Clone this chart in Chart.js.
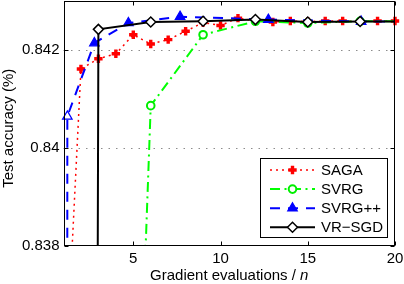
<!DOCTYPE html>
<html><head><meta charset="utf-8">
<script src="https://cdn.jsdelivr.net/npm/chart.js@4/dist/chart.umd.min.js"></script>
<style>html,body{margin:0;padding:0;background:#fff}canvas{display:block}</style>
</head><body>
<canvas id="c" width="404" height="284"></canvas>
<script>
// ---- data ----
const SERIES_NAMES = ['SAGA', 'SVRG', 'SVRG++', 'VR\u2212SGD'];
const X_TICKS = [5, 10, 15, 20];
const X_TICK_LABELS = ['5', '10', '15', '20'];
const Y_TICKS = [0.838, 0.840, 0.842];
const Y_TICK_LABELS = ['0.838', '0.84', '0.842'];
const X_TITLE = 'Gradient evaluations / ';
const X_TITLE_ITALIC = 'n';
const Y_TITLE = 'Test accuracy (%)';

const SAGA_X = [1, 2, 3, 4, 5, 6, 7, 8, 9, 10, 11, 12, 13, 14, 15, 16, 17, 18, 19, 20];
const SAGA_Y = [0.8344, 0.84161, 0.84182, 0.84192, 0.84231, 0.84212, 0.84221, 0.84238, 0.84256, 0.84250,
                0.84265, 0.84259, 0.84257, 0.84259, 0.84258, 0.84259, 0.84259, 0.84258, 0.84259, 0.84259];

const SVRG_X = [3, 6, 9, 12, 15, 18, 20];
const SVRG_Y = [0.8112, 0.84086, 0.84231, 0.842585, 0.84255, 0.842585, 0.842585];

const SVRGPP_X = [1, 1.22, 2.77, 4.72, 7.68, 12.74, 18.06, 20];
const SVRGPP_Y = [0.6, 0.84064, 0.84214, 0.84255, 0.84268, 0.84262, 0.84258, 0.84258];

const VRSGD_X = [1, 3, 6, 9, 12, 15, 18, 20];
const VRSGD_Y = [0.6, 0.84242, 0.84257, 0.842585, 0.84262, 0.84257, 0.84258, 0.84258];

const X_MIN = 1, X_MAX = 20, Y_MIN = 0.838, Y_MAX = 0.843;
// ------------------------------------

const FONT = "'Liberation Sans', Arial, Helvetica, sans-serif";
const FS = 15;

function pts(xs, ys) { return xs.map((x, i) => ({ x: x, y: ys[i] })); }
function lastNoMarker(n, r) { return Array.from({ length: n }, (_, i) => i === n - 1 ? 0 : r); }

const CLIP = { left: 8, top: 8, right: 10, bottom: 0 };

const datasets = [
  {
    label: SERIES_NAMES[0], data: pts(SAGA_X, SAGA_Y), order: 3,
    borderColor: '#ff0000', borderWidth: 1.5, borderDash: [2, 4],
    pointStyle: 'cross', pointRadius: 4.2, pointBorderWidth: 3.4,
    pointBorderColor: '#ff0000', pointBackgroundColor: '#ff0000',
    legendFill: '#ff0000'
  },
  {
    label: SERIES_NAMES[1], data: pts(SVRG_X, SVRG_Y), order: 2,
    borderColor: '#00ff00', borderWidth: 2, borderDash: [10, 4.5, 2, 4.5],
    pointStyle: 'circle', pointRadius: lastNoMarker(SVRG_X.length, 3.8), pointBorderWidth: 2,
    pointBorderColor: '#00ee00', pointBackgroundColor: '#ffffff',
    legendFill: '#ffffff'
  },
  {
    label: SERIES_NAMES[2], data: pts(SVRGPP_X, SVRGPP_Y), order: 1,
    borderColor: '#0000ff', borderWidth: 2, borderDash: [10, 8],
    pointStyle: 'triangle', pointRadius: lastNoMarker(SVRGPP_X.length, 5.5), pointBorderWidth: 1.2,
    pointBorderColor: '#0000ff',
    pointBackgroundColor: SVRGPP_X.map((_, i) => i < 2 ? '#ffffff' : '#0000ff'),
    legendFill: '#0000ff'
  },
  {
    label: SERIES_NAMES[3], data: pts(VRSGD_X, VRSGD_Y), order: 0,
    borderColor: '#000000', borderWidth: 2, borderDash: [],
    pointStyle: 'rectRot', pointRadius: lastNoMarker(VRSGD_X.length, 5), pointBorderWidth: 1.5,
    pointBorderColor: '#000000', pointBackgroundColor: '#ffffff',
    legendFill: '#ffffff'
  }
].map(d => Object.assign({ showLine: true, tension: 0, clip: CLIP, fill: false }, d));

const decor = {
  id: 'decor',
  beforeDatasetsDraw(chart) {
    const { ctx, chartArea: a, scales: { y } } = chart;
    ctx.save();
    ctx.strokeStyle = '#8c8c8c'; ctx.lineWidth = 1; ctx.setLineDash([1.5, 6]);
    Y_TICKS.forEach(v => {
      if (v === Y_MIN) return;
      const py = Math.round(y.getPixelForValue(v)) + 0.5;
      ctx.beginPath(); ctx.moveTo(a.left, py); ctx.lineTo(a.right, py); ctx.stroke();
    });
    ctx.restore();
  },
  afterDatasetsDraw(chart) {
    const { ctx, chartArea: a, scales: { x, y } } = chart;
    const ds = chart.data.datasets;
    ctx.save();
    ctx.setLineDash([]);
    ctx.strokeStyle = '#000'; ctx.lineWidth = 1;
    const L = Math.round(a.left) + 0.5, R = Math.round(a.right) - 0.5,
          T = Math.round(a.top) + 0.5, B = Math.round(a.bottom) - 0.5;
    ctx.strokeRect(L, T, R - L, B - T);
    ctx.beginPath();
    X_TICKS.forEach(v => {
      const px = Math.round(x.getPixelForValue(v)) + 0.5;
      ctx.moveTo(px, B); ctx.lineTo(px, B - 4);
      ctx.moveTo(px, T); ctx.lineTo(px, T + 4);
    });
    Y_TICKS.forEach(v => {
      const py = Math.round(y.getPixelForValue(v)) + 0.5;
      ctx.moveTo(L, py); ctx.lineTo(L + 4, py);
      ctx.moveTo(R, py); ctx.lineTo(R - 4, py);
    });
    ctx.stroke();

    // axis titles
    ctx.fillStyle = '#000';
    ctx.textBaseline = 'middle';
    const cx = (a.left + a.right) / 2;
    ctx.font = FS + 'px ' + FONT;
    const w1 = ctx.measureText(X_TITLE).width;
    ctx.font = 'italic ' + FS + 'px ' + FONT;
    const w2 = ctx.measureText(X_TITLE_ITALIC).width;
    const x0 = cx - (w1 + w2) / 2;
    ctx.textAlign = 'left';
    ctx.font = FS + 'px ' + FONT;
    ctx.fillText(X_TITLE, x0, 276);
    ctx.font = 'italic ' + FS + 'px ' + FONT;
    ctx.fillText(X_TITLE_ITALIC, x0 + w1, 276);

    ctx.save();
    ctx.translate(9, (a.top + a.bottom) / 2 + 5);
    ctx.rotate(-Math.PI / 2);
    ctx.textAlign = 'center';
    ctx.font = FS + 'px ' + FONT;
    ctx.fillText(Y_TITLE, 0, 0);
    ctx.restore();

    // legend
    const bx = 260.5, by = 158.5, bw = 127, bh = 79;
    ctx.fillStyle = '#fff';
    ctx.fillRect(bx, by, bw, bh);
    ctx.strokeStyle = '#000'; ctx.lineWidth = 1; ctx.setLineDash([]);
    ctx.strokeRect(bx, by, bw, bh);
    ds.forEach((d, i) => {
      const ry = 170 + i * 19.1;
      ctx.save();
      ctx.strokeStyle = d.borderColor; ctx.lineWidth = d.borderWidth;
      ctx.setLineDash(d.borderDash || []);
      ctx.beginPath(); ctx.moveTo(270, ry); ctx.lineTo(315, ry); ctx.stroke();
      ctx.setLineDash([]);
      ctx.strokeStyle = d.pointBorderColor; ctx.fillStyle = d.legendFill;
      ctx.lineWidth = d.pointBorderWidth;
      const r = Array.isArray(d.pointRadius) ? d.pointRadius[1] : d.pointRadius;
      Chart.helpers.drawPoint(ctx, { pointStyle: d.pointStyle, radius: r, borderWidth: d.pointBorderWidth, rotation: 0 }, 292.5, ry);
      ctx.restore();
      ctx.fillStyle = '#000';
      ctx.font = FS + 'px ' + FONT;
      ctx.textAlign = 'left'; ctx.textBaseline = 'middle';
      ctx.fillText(d.label, 321, ry + 0.5);
    });
    ctx.restore();
  }
};

new Chart(document.getElementById('c'), {
  type: 'scatter',
  data: { datasets: datasets },
  options: {
    responsive: false, animation: false, devicePixelRatio: 1,
    layout: { autoPadding: false, padding: { left: 0, right: 9, top: 1, bottom: 0 } },
    plugins: { legend: { display: false }, tooltip: { enabled: false }, title: { display: false } },
    scales: {
      x: {
        type: 'linear', min: X_MIN, max: X_MAX,
        afterBuildTicks: s => { s.ticks = X_TICKS.map(v => ({ value: v })); },
        afterFit: s => { s.height = 38.5; s.paddingLeft = 0; s.paddingRight = 0; s.paddingTop = 0; s.paddingBottom = 0; },
        ticks: {
          color: '#000', font: { family: FONT, size: FS }, padding: 4, maxRotation: 0, autoSkip: false,
          callback: (v) => { const i = X_TICKS.indexOf(v); return i >= 0 ? X_TICK_LABELS[i] : ''; }
        },
        grid: { display: false, drawTicks: false }, border: { display: false }
      },
      y: {
        type: 'linear', min: Y_MIN, max: Y_MAX,
        afterBuildTicks: s => { s.ticks = Y_TICKS.map(v => ({ value: v })); },
        afterFit: s => { s.width = 63.5; s.paddingLeft = 0; s.paddingRight = 0; s.paddingTop = 0; s.paddingBottom = 0; },
        ticks: {
          color: '#000', font: { family: FONT, size: FS }, padding: 4, autoSkip: false,
          callback: (v) => { const i = Y_TICKS.findIndex(t => Math.abs(t - v) < 1e-9); return i >= 0 ? Y_TICK_LABELS[i] : ''; }
        },
        grid: { display: false, drawTicks: false }, border: { display: false }
      }
    }
  },
  plugins: [decor]
});
</script>
</body></html>
